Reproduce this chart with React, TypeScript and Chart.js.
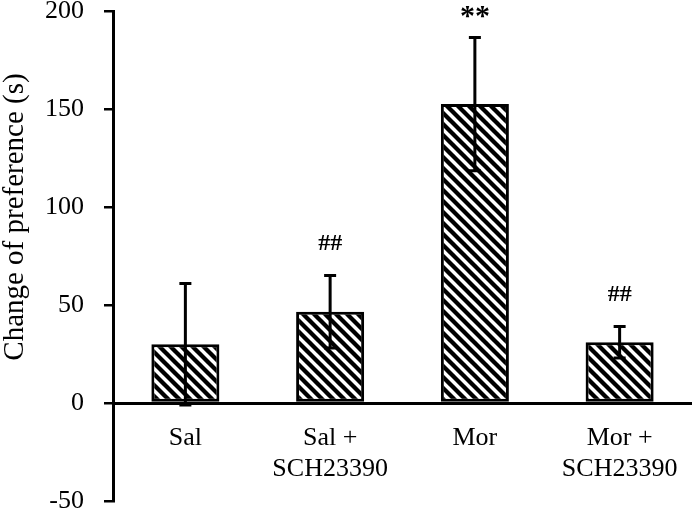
import React, { useEffect, useRef } from 'react';
import { Chart, registerables } from 'chart.js';

Chart.register(...registerables);

const categories = [['Sal'], ['Sal +', 'SCH23390'], ['Mor'], ['Mor +', 'SCH23390']];
const means = [30, 46.5, 152.5, 31];
const errors = [31, 18.5, 34, 8];
const sigMarks = ['', '##', '**', '##'];
const yMin = -50;
const yMax = 200;
const yStep = 50;
const yTitle = 'Change of preference (s)';

const FONT = '"Liberation Serif", "Times New Roman", serif';

function makeHatch(): CanvasPattern | string {
  const s = 11;
  const c = document.createElement('canvas');
  c.width = s;
  c.height = s;
  const g = c.getContext('2d');
  if (!g) return '#000';
  g.fillStyle = '#fff';
  g.fillRect(0, 0, s, s);
  g.strokeStyle = '#000';
  g.lineWidth = 4.3;
  for (const k of [-1, 0, 1]) {
    g.beginPath();
    g.moveTo(-s, -s + k * s);
    g.lineTo(2 * s, 2 * s + k * s);
    g.stroke();
  }
  return g.createPattern(c, 'repeat') || '#000';
}

const overlayPlugin = {
  id: 'overlay',
  afterDatasetsDraw(chart: any) {
    const ctx = chart.ctx as CanvasRenderingContext2D;
    const y = chart.scales.y;
    const meta = chart.getDatasetMeta(0);
    ctx.save();
    ctx.strokeStyle = '#000';
    ctx.lineWidth = 3;
    meta.data.forEach((bar: any, i: number) => {
      const x = bar.x;
      const t = y.getPixelForValue(means[i] + errors[i]);
      const b = y.getPixelForValue(means[i] - errors[i]);
      ctx.beginPath();
      ctx.moveTo(x, t);
      ctx.lineTo(x, b);
      ctx.moveTo(x - 6, t);
      ctx.lineTo(x + 6, t);
      ctx.moveTo(x - 6, b);
      ctx.lineTo(x + 6, b);
      ctx.stroke();
      const mark = sigMarks[i];
      if (mark) {
        const isStar = mark.includes('*');
        ctx.fillStyle = '#000';
        ctx.textAlign = 'center';
        ctx.textBaseline = 'middle';
        ctx.font = `bold ${isStar ? 30 : 24}px ${FONT}`;
        ctx.fillText(mark, x, t - (isStar ? 20 : 32));
      }
    });
    // axis title
    ctx.translate(15, 217);
    ctx.rotate(-Math.PI / 2);
    ctx.fillStyle = '#000';
    ctx.textAlign = 'center';
    ctx.textBaseline = 'middle';
    ctx.font = `29px ${FONT}`;
    ctx.fillText(yTitle, 0, 0);
    ctx.restore();
  },
};

export default function App() {
  const ref = useRef<HTMLCanvasElement>(null);
  useEffect(() => {
    if (!ref.current) return;
    const hatch = makeHatch();
    const chart = new Chart(ref.current, {
      type: 'bar',
      data: {
        labels: categories,
        datasets: [
          {
            data: means,
            backgroundColor: hatch as any,
            borderColor: '#000',
            borderWidth: 3,
            borderSkipped: false,
            barPercentage: 0.47,
            categoryPercentage: 1,
          },
        ],
      },
      options: {
        animation: false,
        responsive: true,
        maintainAspectRatio: false,
        layout: { padding: { top: 11, bottom: 10, left: 0, right: 0 } },
        plugins: { legend: { display: false }, tooltip: { enabled: false } },
        scales: {
          x: {
            position: { y: 0 } as any,
            grid: { display: false, drawTicks: false },
            border: { display: true, color: '#000', width: 3 },
            ticks: {
              color: '#000',
              font: { family: FONT, size: 26, lineHeight: 1.22 },
              padding: 19,
              maxRotation: 0,
              autoSkip: false,
            },
            afterFit: (s: any) => {
              s.height = 0;
              s.paddingLeft = 0;
              s.paddingRight = 0;
            },
          },
          y: {
            min: yMin,
            max: yMax,
            grid: { drawOnChartArea: false, drawTicks: true, tickLength: 9, color: '#000', lineWidth: 2.5 },
            border: { display: true, color: '#000', width: 3 },
            ticks: {
              stepSize: yStep,
              color: '#000',
              font: { family: FONT, size: 26 },
              padding: 20,
            },
            afterFit: (s: any) => {
              s.width = 113;
              s.paddingTop = 0;
              s.paddingBottom = 0;
            },
          },
        },
      },
      plugins: [overlayPlugin],
    });
    return () => chart.destroy();
  }, []);
  return (
    <div style={{ position: 'fixed', left: 0, top: 0, width: 692, height: 511, background: '#fff' }}>
      <canvas ref={ref} />
    </div>
  );
}
